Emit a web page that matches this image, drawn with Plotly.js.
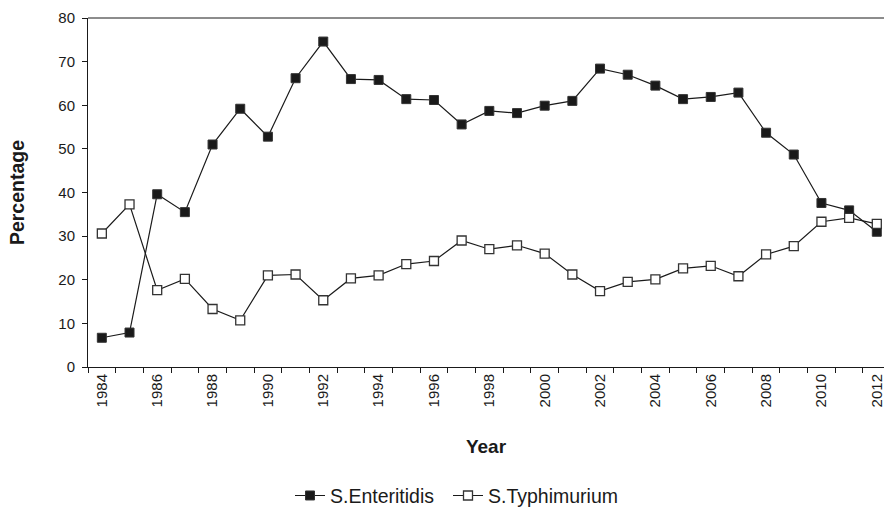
<!DOCTYPE html>
<html>
<head>
<meta charset="utf-8">
<script src="https://cdn.plot.ly/plotly-3.0.1.min.js"></script>
<style>html,body{margin:0;padding:0;background:#fff;}#chart{width:884px;height:508px;}</style>
</head>
<body>
<div id="chart"></div>
<script>
const years = [1984,1985,1986,1987,1988,1989,1990,1991,1992,1993,1994,1995,1996,1997,1998,1999,2000,2001,2002,2003,2004,2005,2006,2007,2008,2009,2010,2011,2012];
const enteritidis = [6.7,7.9,39.6,35.5,51.0,59.2,52.8,66.2,74.6,66.0,65.8,61.4,61.2,55.6,58.7,58.2,59.9,61.0,68.4,67.0,64.5,61.4,61.9,62.9,53.7,48.7,37.6,35.9,31.0];
const typhimurium = [30.6,37.3,17.6,20.2,13.3,10.7,21.0,21.2,15.3,20.3,21.0,23.6,24.3,29.0,27.0,27.9,26.0,21.2,17.4,19.5,20.1,22.6,23.2,20.8,25.8,27.7,33.3,34.2,32.8];
const labelYears = years.filter(y => (y - 1984) % 2 === 0);
const boundaries = years.map(y => y - 0.5);

const font = "Liberation Sans, Arial, sans-serif";
const ink = "#1a1a1a";
const traces = [
  {x: years, y: enteritidis, name: "S.Enteritidis", type: "scatter", mode: "lines+markers",
   legend: "legend",
   line: {color: ink, width: 1.2},
   marker: {symbol: "square", size: 9, color: ink, line: {color: "#333", width: 1}}},
  {x: years, y: typhimurium, name: "S.Typhimurium", type: "scatter", mode: "lines+markers",
   legend: "legend2",
   line: {color: ink, width: 1.2},
   marker: {symbol: "square", size: 9, color: "#ffffff", line: {color: "#333", width: 1.3}}}
];
const legendBase = {orientation: "h", xref: "container", xanchor: "left",
                    yref: "container", y: 0.024, yanchor: "middle",
                    font: {size: 19.5, family: font}, itemwidth: 30};
const layout = {
  width: 884, height: 508,
  margin: {l: 88, r: 0, t: 18, b: 141, autoexpand: false},
  paper_bgcolor: "#fff", plot_bgcolor: "#fff",
  font: {family: font, color: ink, size: 15},
  showlegend: true,
  legend: Object.assign({}, legendBase, {x: 290 / 884}),
  legend2: Object.assign({}, legendBase, {x: 448 / 884}),
  xaxis: {
    range: [1983.5, 2012.26], showgrid: false, zeroline: false, automargin: false,
    showline: true, linecolor: ink, linewidth: 1,
    tickmode: "array", tickvals: labelYears, ticktext: labelYears.map(String),
    ticks: "", tickangle: -90, tickfont: {size: 15}, ticklabeloverflow: "allow",
    minor: {tickmode: "array", tickvals: boundaries, ticks: "outside", ticklen: 5, tickcolor: ink, showgrid: false},
    title: {text: "<b>Year</b>", font: {size: 19}, standoff: 33}
  },
  yaxis: {
    range: [0, 80], dtick: 10, showgrid: false, zeroline: false, automargin: false,
    showline: true, linecolor: ink, linewidth: 1,
    ticks: "outside", ticklen: 5, tickcolor: ink, tickfont: {size: 15}, ticklabelstandoff: 4,
    title: {text: "<b>Percentage</b>", font: {size: 19.5}, standoff: 28}
  },
  shapes: [
    {type: "line", xref: "paper", yref: "paper", x0: 0, x1: 1, y0: 1, y1: 1,
     line: {color: ink, width: 1}}
  ]
};
Plotly.newPlot("chart", traces, layout, {displayModeBar: false, staticPlot: true});
</script>
</body>
</html>
